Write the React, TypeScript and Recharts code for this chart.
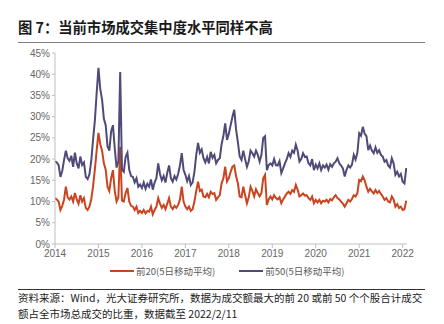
import React from "react";
import { LineChart, Line, XAxis, YAxis } from "recharts";

// half-month samples starting Jan 2014
const startYear = 2014;
const step = 1 / 24;

const top20 = [
  10.8, 10.5, 10.0, 8.0, 9.0, 10.5, 13.5, 11.0, 10.5, 11.2, 10.0, 12.0,
  10.5, 9.5, 11.5, 10.0, 10.8, 8.5, 8.0, 8.8, 10.5, 13.5, 17.5, 22.0,
  26.2, 23.5, 22.0, 19.0, 17.5, 13.5, 12.5, 15.5, 17.4, 12.5, 10.0, 11.0,
  22.9, 10.2, 10.0, 12.0, 13.2, 10.0, 9.0, 8.8, 8.0, 8.8, 7.3, 7.8,
  7.3, 8.0, 7.2, 7.8, 7.6, 8.8, 7.0, 8.0, 8.8, 10.8, 9.5, 8.5,
  9.2, 8.2, 9.5, 10.8, 8.8, 8.2, 9.0, 8.5, 9.2, 10.5, 13.5, 10.0,
  8.8, 8.2, 8.8, 7.8, 8.2, 10.0, 12.5, 14.7, 12.5, 12.8, 11.2, 11.0,
  11.8, 11.0, 12.3, 11.8, 12.0, 10.4, 11.0, 11.5, 14.3, 15.5, 18.2, 14.7,
  15.5, 17.0, 18.2, 18.5, 16.0, 14.3, 11.2, 11.0, 13.5, 11.5, 9.6, 11.0,
  13.5, 12.5, 11.2, 12.9, 12.0, 11.2, 12.0, 15.5, 16.3, 9.2, 10.5, 11.2,
  10.5, 11.5, 10.8, 10.5, 11.0, 9.6, 10.5, 11.2, 11.9, 12.3, 11.8, 12.7,
  12.3, 13.9, 12.8, 11.2, 11.5, 11.9, 11.4, 11.5, 10.8, 10.4, 11.2, 9.6,
  10.4, 9.8, 10.4, 9.6, 10.2, 10.0, 10.4, 9.8, 10.6, 10.3, 11.0, 11.5,
  10.8, 10.5, 10.0, 9.5, 8.8, 9.6, 10.4, 10.0, 10.6, 11.5, 11.2, 12.0,
  15.1, 14.8, 15.9, 15.0, 13.5, 12.3, 13.0, 12.4, 11.9, 12.7, 12.0, 12.5,
  11.8, 11.2, 10.4, 10.8, 10.0, 9.8, 11.2, 10.5, 8.8, 9.4, 8.5, 8.8,
  8.0, 8.2, 10.2,
];

const top50 = [
  19.5, 19.2, 18.6, 15.8, 17.2, 19.8, 22.0, 20.2, 19.6, 20.8, 18.2, 21.5,
  19.0, 17.8, 20.6, 18.6, 19.2, 15.8, 15.3, 16.4, 19.5, 24.5, 29.0, 35.5,
  41.5, 36.5, 34.0, 29.5, 28.0, 23.0, 22.0, 26.5, 28.0, 22.5, 18.0, 19.5,
  40.5, 17.5, 17.0, 20.5, 21.5, 17.5, 16.0, 15.8, 14.5, 15.5, 13.5, 14.0,
  13.2, 14.5, 13.0, 14.2, 13.5, 15.2, 12.8, 14.5, 15.5, 19.0, 16.5, 15.0,
  16.0, 14.5, 16.8, 18.5, 15.5, 14.7, 16.0, 15.2, 16.5, 18.5, 21.4, 17.5,
  16.3, 14.8, 16.0, 13.9, 14.5, 17.0, 21.0, 23.8, 21.5, 22.3, 20.2, 19.2,
  20.5, 19.0, 21.7, 20.3, 21.0, 19.0, 19.8, 20.2, 23.5, 25.5, 28.4, 24.5,
  26.0, 28.0, 30.0, 31.6, 27.0, 24.0, 20.6, 19.8, 22.0, 20.0, 18.2, 19.5,
  22.0, 21.4, 20.6, 22.0, 21.0, 19.4, 21.0, 25.0, 25.4, 17.4, 18.6, 19.0,
  18.5, 20.0, 18.6, 18.5, 19.5, 16.7, 17.8, 19.0, 20.0, 21.4, 20.5, 22.0,
  21.5, 23.4, 22.0, 19.4, 20.0, 21.4, 20.5, 20.6, 19.0, 18.5, 20.0, 17.4,
  18.7, 17.8, 19.0, 17.4, 18.5, 18.0, 18.7, 17.5, 18.8, 18.2, 19.0, 19.4,
  20.2, 19.0, 18.5, 17.8, 15.9, 17.5, 18.5, 18.0, 18.7, 21.0, 19.9, 21.5,
  26.1, 25.5, 27.6, 26.0, 25.4, 22.1, 23.2, 22.0, 21.4, 22.8, 21.5, 22.1,
  21.0, 20.6, 19.4, 19.8, 18.5, 18.0, 20.2, 19.0, 16.3, 17.0, 15.9, 16.5,
  14.7, 14.3, 17.9,
];

const yearTicks = [2014, 2015, 2016, 2017, 2018, 2019, 2020, 2021, 2022];
const pctTicks = [0, 5, 10, 15, 20, 25, 30, 35, 40, 45];

const series = [
  { key: "top20", name: "前20(5日移动平均)", color: "#C9441F" },
  { key: "top50", name: "前50(5日移动平均)", color: "#4E4B78" },
];

const data = top20.map((v, i) => ({
  t: startYear + i * step,
  top20: v,
  top50: top50[i],
}));

const cjk = '"Noto Sans CJK SC", "Noto Sans", sans-serif';
const tickStyle = { fontSize: 10, fill: "#666", fontFamily: '"Liberation Sans", Arial, sans-serif' };

export default function App() {
  return (
    <div
      style={{
        position: "absolute",
        left: 0,
        top: 0,
        width: 444,
        height: 324,
        background: "#fff",
        fontFamily: cjk,
        overflow: "hidden",
      }}
    >
      <div
        style={{
          position: "absolute",
          left: 18,
          top: 18,
          fontSize: 14.3,
          lineHeight: "17px",
          fontWeight: 700,
          color: "#1a1a1a",
        }}
      >
        图 7：当前市场成交集中度水平同样不高
      </div>
      <div
        style={{
          position: "absolute",
          left: 18,
          top: 42,
          width: 407,
          height: 0,
          borderTop: "1.5px solid #7f7f7f",
        }}
      />

      <div style={{ position: "absolute", left: 0, top: 0 }}>
        <LineChart
          width={444}
          height={265}
          data={data}
          margin={{ top: 53, right: 37, left: 10, bottom: 1 }}
        >
          <XAxis
            dataKey="t"
            type="number"
            domain={[2014, 2022.1]}
            ticks={yearTicks}
            tick={tickStyle}
            tickSize={4}
            height={20}
            stroke="#bfbfbf"
            allowDataOverflow
          />
          <YAxis
            type="number"
            domain={[0, 45]}
            ticks={pctTicks}
            tickFormatter={(v) => `${v}%`}
            tick={tickStyle}
            tickSize={3}
            width={45}
            stroke="#bfbfbf"
          />
          {series.map((s) => (
            <Line
              key={s.key}
              type="linear"
              dataKey={s.key}
              stroke={s.color}
              strokeWidth={2}
              dot={false}
              isAnimationActive={false}
            />
          ))}
        </LineChart>
      </div>

      <div
        style={{
          position: "absolute",
          top: 264,
          left: 110,
          display: "flex",
          fontSize: 9.5,
          lineHeight: "14px",
          color: "#595959",
        }}
      >
        {series.map((s, i) => (
          <div
            key={s.key}
            style={{ display: "flex", alignItems: "center", marginLeft: i ? 24 : 0 }}
          >
            <span
              style={{
                display: "inline-block",
                width: 24,
                height: 2,
                background: s.color,
                marginRight: 2,
              }}
            />
            <span>{s.name}</span>
          </div>
        ))}
      </div>

      <div
        style={{
          position: "absolute",
          left: 18,
          top: 289,
          width: 407,
          height: 0,
          borderTop: "1px solid #333",
        }}
      />
      <div
        style={{
          position: "absolute",
          left: 18,
          top: 290,
          width: 420,
          fontSize: 10.5,
          lineHeight: "15.5px",
          color: "#222",
          whiteSpace: "nowrap",
        }}
      >
        <div>资料来源：Wind，光大证券研究所，数据为成交额最大的前 20 或前 50 个个股合计成交</div>
        <div>额占全市场总成交的比重，数据截至 2022/2/11</div>
      </div>
    </div>
  );
}
